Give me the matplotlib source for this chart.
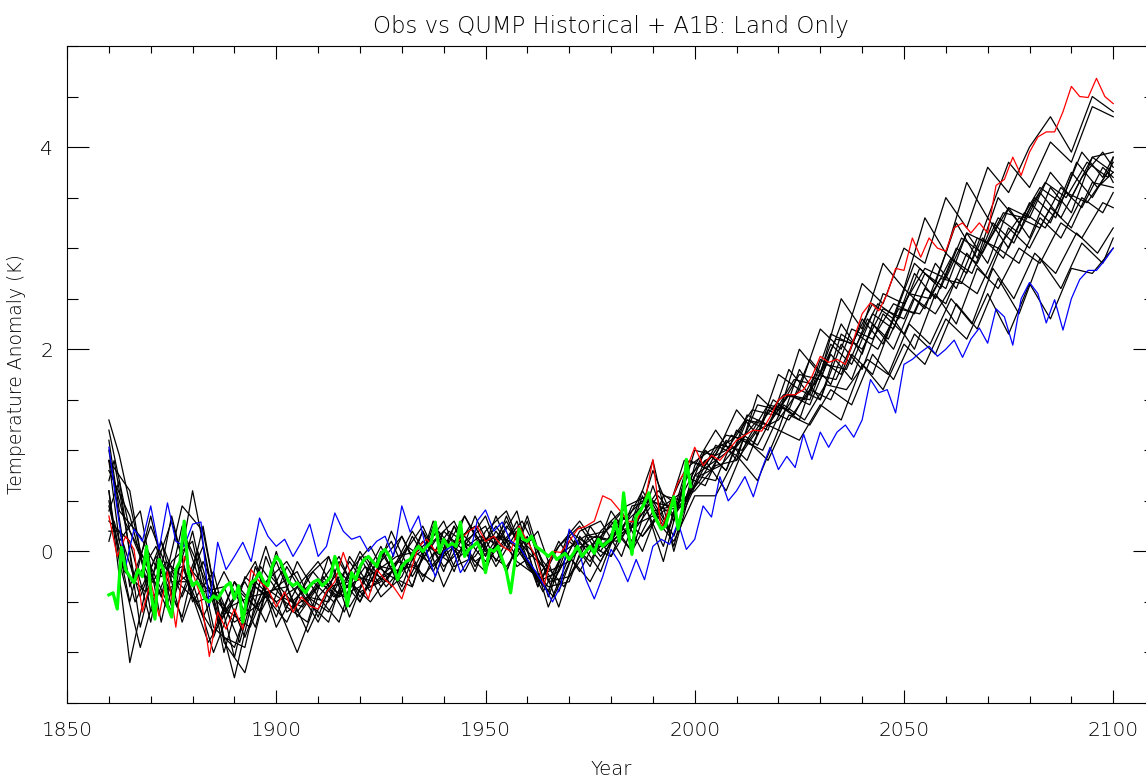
import numpy as np
import matplotlib
matplotlib.use("Agg")
import matplotlib.pyplot as plt
from matplotlib.ticker import MultipleLocator

# year grids
years_2yr = np.arange(1860, 2101, 2)
years_obs = np.arange(1860, 2000)
years_a = np.arange(1860, 2101, 5)
years_b = np.concatenate([[1860], np.arange(1862.5, 2100, 5), [2100]])
years_c = np.concatenate([[1860], np.arange(1861.25, 2100, 5), [2100]])
years_d = np.concatenate([[1860], np.arange(1863.75, 2100, 5), [2100]])

# red ensemble member (2-year steps 1860..2100)
red_member = [
    0.35, -0.05, 0.15, 0.02, -0.6, -0.3, -0.64, -0.2, -0.75, -0.05,
    -0.21, -0.45, -1.04, -0.6, -0.77, -0.57, -0.77, -0.18, -0.3, -0.37,
    -0.55, -0.4, -0.6, -0.45, -0.54, -0.57, -0.4, -0.3, -0.01, -0.25,
    -0.28, -0.47, -0.18, -0.28, -0.35, -0.47, -0.21, 0.05, 0.12, 0.0,
    0.09, 0.05, 0.12, 0.2, 0.25, 0.1, 0.15, 0.05, 0.0, 0.25,
    0.1, -0.05, -0.34, 0.0, -0.01, 0.1, 0.22, 0.25, 0.3, 0.55,
    0.51, 0.41, 0.3, 0.29, 0.48, 0.91, 0.22, 0.45, 0.68, 0.81,
    1.03, 0.85, 0.95, 0.9, 1.0, 1.1, 1.15, 1.2, 1.19, 1.33,
    1.5, 1.55, 1.55, 1.6, 1.73, 1.93, 1.87, 1.9, 1.85, 2.1,
    2.35, 2.46, 2.38, 2.55, 2.8, 2.78, 3.1, 2.91, 3.1, 3.0,
    2.97, 3.2, 3.25, 3.15, 3.25, 3.15, 3.62, 3.68, 3.9, 3.72,
    3.95, 4.1, 4.15, 4.15, 4.35, 4.6, 4.5, 4.49, 4.68, 4.5,
    4.43,
]

# blue ensemble member (2-year steps 1860..2100)
blue_member = [
    1.03, 0.41, -0.15, 0.22, 0.1, 0.45, 0.02, 0.48, 0.1, 0.05,
    0.27, 0.29, -0.54, 0.09, -0.18, -0.05, 0.09, -0.1, 0.33, 0.15,
    0.05, 0.12, -0.05, 0.09, 0.27, -0.05, 0.05, 0.38, 0.2, 0.12,
    0.15, 0.0, 0.1, 0.15, -0.05, 0.45, 0.19, 0.35, -0.01, -0.25,
    0.0, 0.05, -0.21, -0.08, 0.3, 0.41, 0.2, 0.29, 0.1, 0.05,
    -0.08, -0.2, -0.34, -0.5, -0.34, 0.22, 0.09, -0.28, -0.47, -0.25,
    0.02, -0.11, -0.3, -0.08, -0.28, 0.05, 0.12, 0.07, 0.29, 0.02,
    0.12, 0.45, 0.34, 0.74, 0.5, 0.6, 0.74, 0.54, 0.81, 1.03,
    0.81, 0.94, 0.83, 1.16, 0.91, 1.18, 1.03, 1.18, 1.25, 1.13,
    1.3, 1.7, 1.57, 1.6, 1.37, 1.85, 1.9, 1.97, 2.03, 1.93,
    2.0, 2.09, 1.92, 2.1, 2.21, 2.06, 2.4, 2.32, 2.04, 2.5,
    2.66, 2.55, 2.26, 2.49, 2.19, 2.5, 2.69, 2.78, 2.78, 2.88,
    3.0,
]

# observations (annual 1860..1999)
obs = [
    -0.43, -0.41, -0.57, 0.04, -0.18, -0.25, -0.31, -0.18, -0.25, 0.05,
    -0.39, -0.67, -0.08, -0.18, -0.54, -0.65, -0.18, -0.1, 0.3, -0.21,
    -0.34, -0.3, -0.37, -0.47, -0.5, -0.44, -0.47, -0.4, -0.34, -0.31,
    -0.47, -0.34, -0.7, -0.45, -0.31, -0.28, -0.21, -0.3, -0.34, -0.15,
    -0.05, -0.1, -0.21, -0.3, -0.34, -0.31, -0.36, -0.41, -0.34, -0.3,
    -0.28, -0.34, -0.3, -0.25, -0.05, -0.21, -0.3, -0.54, -0.21, -0.28,
    -0.15, -0.08, -0.05, -0.1, -0.15, -0.02, 0.02, -0.05, -0.15, -0.28,
    -0.15, -0.1, -0.08, 0.0, 0.05, 0.0, 0.05, 0.09, 0.29, -0.01,
    0.12, 0.05, 0.08, 0.05, 0.29, -0.05, 0.02, 0.05, 0.09, 0.0,
    -0.21, 0.02, 0.0, 0.05, -0.08, -0.2, -0.41, -0.11, 0.22, 0.12,
    0.1, 0.15, 0.05, 0.02, -0.01, -0.05, -0.01, -0.08, -0.05, -0.02,
    -0.08, -0.02, 0.05, -0.05, 0.0, 0.05, -0.02, 0.12, 0.05, 0.09,
    0.12, 0.3, 0.1, 0.58, 0.22, -0.03, 0.35, 0.4, 0.48, 0.58,
    0.39, 0.3, 0.22, 0.25, 0.39, 0.54, 0.22, 0.41, 0.91, 0.64,
]

# other ensemble members, black, on grid a (5-year steps)
black_a = [
    [1.2, 0.2, -0.3, 0.3, -0.45, -0.8, -0.3, -0.55, -0.1, -0.6,
     -0.3, -0.45, 0.0, -0.35, -0.05, 0.25, -0.2, 0.35, -0.05, 0.3,
     -0.1, -0.4, 0.15, -0.15, 0.4, 0.1, 0.8, 0.3, 1.0,
     0.95, 1.4, 1.15, 1.75, 1.6, 2.2, 2.0, 2.65, 2.45, 3.0,
     2.85, 3.5, 3.2, 3.8, 3.55, 4.0, 4.3, 3.95, 4.5, 4.35],
    [0.5, -0.5, 0.35, -0.55, 0.2, -0.75, -0.95, -0.3, -0.5, -0.35,
     -0.7, -0.25, -0.5, 0.0, -0.35, 0.2, -0.15, 0.05, 0.35, -0.2,
     0.3, -0.45, 0.1, -0.1, 0.3, 0.0, 0.65, 0.05, 0.85,
     1.2, 0.9, 1.55, 1.35, 2.0, 1.75, 2.5, 2.2, 2.85, 2.6,
     3.3, 2.95, 3.65, 3.3, 3.85, 3.6, 4.05, 3.85, 4.4, 4.3],
    [0.9, 0.6, -0.6, -0.1, 0.1, -0.85, -0.3, -0.75, 0.0, -0.65,
     -0.35, -0.05, -0.5, -0.1, 0.15, -0.3, 0.2, 0.0, -0.2, 0.35,
     -0.15, -0.4, 0.2, 0.05, -0.05, 0.45, 0.5, 0.15, 0.75,
     0.7, 1.2, 1.05, 1.45, 1.3, 1.9, 1.75, 2.3, 2.05, 2.6,
     2.4, 2.95, 2.75, 3.3, 3.0, 3.45, 3.25, 3.75, 3.5, 3.85],
    [0.3, 0.1, -0.7, 0.35, -0.5, -0.2, -1.05, -0.15, -0.65, -0.1,
     -0.45, -0.7, -0.05, -0.45, -0.25, 0.2, -0.35, 0.1, 0.25, -0.2,
     0.35, -0.3, -0.25, 0.05, 0.25, 0.0, 0.4, 0.45, 0.6,
     0.85, 0.9, 1.2, 1.3, 1.6, 1.5, 2.05, 1.8, 2.35, 2.15,
     2.6, 2.45, 2.95, 2.7, 3.2, 3.0, 3.4, 3.2, 3.65, 3.6],
    [1.0, -0.35, 0.25, -0.3, -0.3, -1.0, -0.45, -0.1, -0.75, -0.35,
     -0.1, -0.45, -0.35, 0.05, -0.4, 0.0, 0.3, -0.2, 0.2, 0.4,
     -0.1, -0.35, -0.3, 0.25, -0.05, 0.3, 0.9, 0.0, 0.75,
     0.9, 1.05, 1.3, 1.2, 1.8, 1.5, 2.15, 2.0, 2.4, 2.3,
     2.75, 2.6, 3.15, 2.85, 3.4, 3.1, 3.6, 3.35, 3.9, 3.75],
    [0.6, -1.1, -0.15, -0.6, 0.6, -0.45, -1.25, -0.35, -0.5, -1.0,
     -0.45, -0.2, -0.4, -0.3, 0.15, -0.25, 0.0, 0.35, 0.0, -0.15,
     0.15, -0.55, -0.05, -0.3, 0.1, 0.25, 0.35, 0.1, 0.55,
     0.55, 0.95, 0.7, 1.2, 1.1, 1.45, 1.3, 1.85, 1.6, 2.05,
     1.85, 2.3, 2.1, 2.55, 2.15, 2.65, 2.3, 2.8, 2.75, 3.0],
    [0.8, 0.35, -0.45, -0.35, -0.2, -0.45, -0.7, -0.55, -0.35, -0.2,
     -0.65, -0.1, -0.45, -0.15, -0.2, 0.1, -0.05, 0.15, -0.1, 0.25,
     0.0, -0.2, -0.1, 0.15, 0.1, 0.25, 0.5, 0.35, 0.65,
     1.05, 0.95, 1.45, 1.4, 1.75, 1.7, 2.25, 1.95, 2.55, 2.45,
     2.8, 2.7, 3.15, 3.05, 3.4, 3.3, 3.75, 3.5, 3.9, 3.95],
]

# black members on grid b (offset 2.5 years)
black_b = [
    [1.3, 0.95, 0.0, -0.45, 0.45, 0.2, -0.85, -0.95, -0.05, -0.55,
     -0.7, -0.05, -0.55, -0.2, 0.1, -0.35, 0.25, -0.2, 0.35, -0.1,
     0.3, -0.3, -0.2, 0.2, 0.3, -0.05, 0.55, -0.1, 0.7,
     0.9, 1.0, 1.3, 1.2, 1.8, 1.55, 2.15, 2.05, 2.45, 2.3,
     2.85, 2.65, 3.25, 2.9, 3.5, 3.25, 3.6, 3.45, 3.95, 3.7, 3.9],
    [0.6, -0.1, -0.95, -0.2, -0.65, 0.25, -0.9, -1.2, -0.4, -0.35,
     -0.8, -0.35, -0.3, -0.5, -0.2, -0.15, -0.3, 0.25, -0.2, 0.35,
     -0.15, 0.0, -0.55, 0.1, -0.2, 0.35, 0.15, 0.4, 0.45,
     0.9, 0.6, 1.1, 0.9, 1.35, 1.25, 1.6, 1.45, 1.95, 1.7,
     2.15, 1.95, 2.45, 2.2, 2.7, 2.35, 2.9, 2.6, 3.05, 2.85, 3.1],
    [0.9, 0.1, 0.4, -0.7, 0.25, -0.4, -0.35, -0.85, -0.3, -0.1,
     -0.45, -0.6, -0.2, 0.05, -0.35, 0.15, -0.2, 0.25, -0.1, 0.05,
     0.4, -0.35, 0.1, -0.2, 0.2, 0.4, 0.0, 0.55, 0.5,
     1.0, 0.8, 1.35, 1.25, 1.55, 1.5, 2.05, 1.85, 2.35, 2.2,
     2.75, 2.5, 3.0, 2.85, 3.3, 3.15, 3.55, 3.3, 3.7, 3.95, 3.8],
    [0.4, 0.7, -0.75, 0.1, -0.45, 0.05, -1.0, -0.25, -0.45, -0.7,
     -0.25, -0.05, -0.65, -0.1, -0.25, -0.35, 0.3, -0.15, -0.05, 0.25,
     -0.05, 0.2, -0.4, 0.15, -0.1, 0.3, 0.5, 0.05, 0.75,
     0.65, 1.1, 0.9, 1.4, 1.3, 1.6, 1.5, 1.95, 1.75, 2.3,
     2.0, 2.55, 2.25, 2.8, 2.6, 3.0, 2.85, 3.25, 3.1, 3.45, 3.4],
    [1.1, 0.4, 0.15, -0.25, -0.15, -0.65, -0.2, -0.6, 0.05, -0.6,
     -0.45, -0.5, -0.1, -0.4, 0.2, -0.25, 0.1, 0.3, -0.15, 0.2,
     -0.1, -0.25, 0.05, 0.25, -0.05, 0.2, 0.6, 0.25, 0.9,
     0.85, 1.15, 1.1, 1.45, 1.4, 1.9, 1.65, 2.2, 2.1, 2.45,
     2.35, 2.85, 2.6, 3.1, 3.0, 3.3, 3.2, 3.6, 3.4, 3.8, 3.7],
    [0.2, 0.2, -0.45, 0.1, -0.7, -0.1, -0.6, -0.3, -0.7, -0.15,
     -0.5, -0.7, -0.05, -0.35, -0.2, 0.2, -0.15, 0.1, 0.25, -0.15,
     0.2, -0.35, 0.05, 0.3, 0.0, 0.35, 0.15, 0.45, 0.6,
     1.0, 0.8, 1.3, 1.25, 1.55, 1.45, 1.95, 1.7, 2.25, 2.0,
     2.5, 2.35, 2.7, 2.55, 3.0, 2.85, 3.3, 3.1, 3.5, 3.35, 3.55],
]

# black members on grid c (offset 1.25 years)
black_c = [
    [0.7, 0.9, -0.3, 0.05, -0.55, 0.0, -0.7, -0.4, -0.6, -0.2,
     -0.5, -0.3, -0.45, -0.15, -0.3, 0.05, -0.1, 0.2, 0.05, 0.15,
     0.1, -0.2, -0.45, 0.0, 0.15, 0.1, 0.3, 0.6, 0.45,
     0.7, 1.05, 1.0, 1.3, 1.55, 1.5, 1.85, 1.8, 2.3, 2.1,
     2.55, 2.5, 2.9, 2.75, 3.25, 3.05, 3.5, 3.3, 3.85, 3.6, 3.75],
    [0.1, 0.3, -0.5, -0.05, -0.3, -0.5, -0.4, -0.9, -0.15, -0.45,
     -0.55, -0.25, -0.6, -0.05, -0.35, -0.1, 0.05, -0.1, 0.25, -0.05,
     0.2, 0.0, -0.3, 0.1, 0.0, 0.2, 0.25, 0.55, 0.3,
     0.75, 0.85, 1.1, 1.0, 1.45, 1.3, 1.65, 1.6, 1.9, 1.75,
     2.25, 2.05, 2.5, 2.25, 2.8, 2.5, 2.95, 2.75, 3.15, 2.95, 3.2],
]

# black members on grid d (offset 3.75 years)
black_d = [
    [0.9, 0.3, -0.1, -0.55, 0.1, -0.35, -0.6, -0.75, -0.25, -0.5,
     -0.3, -0.5, -0.25, -0.3, -0.1, -0.15, 0.15, 0.0, 0.15, 0.05,
     0.3, -0.1, -0.35, 0.05, 0.05, 0.3, 0.5, 0.45, 0.9,
     0.8, 1.15, 1.05, 1.5, 1.35, 1.75, 1.7, 2.15, 2.0, 2.4,
     2.35, 2.7, 2.65, 3.1, 2.9, 3.35, 3.2, 3.55, 3.45, 3.75, 3.65],
    [0.45, -0.2, -0.4, -0.1, -0.3, -0.9, -0.55, -0.45, -0.4, -0.55,
     -0.2, -0.45, -0.3, -0.2, -0.05, 0.0, 0.2, -0.05, 0.1, 0.15,
     0.0, -0.4, 0.0, 0.15, 0.2, 0.45, 0.55, 0.2, 0.85,
     1.0, 1.1, 1.4, 1.35, 1.7, 1.65, 2.1, 2.05, 2.45, 2.3,
     2.8, 2.6, 3.1, 2.95, 3.35, 3.3, 3.65, 3.5, 3.85, 3.7, 3.9],
]

plt.rcParams['font.family'] = ['DejaVu Sans']
plt.rcParams['font.weight'] = 'light'
plt.rcParams['axes.titleweight'] = 'light'
plt.rcParams['axes.labelweight'] = 'light'

fig = plt.figure(figsize=(11.46, 7.82), dpi=100)
ax = fig.add_axes([0.0585, 0.101, 0.9494, 0.8402])

for grid, members in [(years_a, black_a), (years_b, black_b),
                      (years_c, black_c), (years_d, black_d)]:
    for vals in members:
        ax.plot(grid, vals, color='black', lw=0.9)
ax.plot(years_2yr, red_member, color='#ff0000', lw=0.9)
ax.plot(years_2yr, blue_member, color='#0000ff', lw=0.9)
ax.plot(years_obs, obs, color='#00ff00', lw=2.3)

ax.set_xlim(1850, 2110)
ax.set_ylim(-1.5, 5.0)

ax.xaxis.set_major_locator(MultipleLocator(50))
ax.xaxis.set_minor_locator(MultipleLocator(10))
ax.yaxis.set_major_locator(MultipleLocator(2))
ax.yaxis.set_minor_locator(MultipleLocator(0.5))

ax.tick_params(axis='x', which='both', direction='in', top=True, width=0.8, labelsize=14.5, pad=13)
ax.tick_params(axis='x', which='major', length=9.4)
ax.tick_params(axis='x', which='minor', length=4.7)
ax.tick_params(axis='y', which='both', direction='in', right=True, width=0.8, labelsize=14.5, pad=10)
ax.tick_params(axis='y', which='major', length=15.8)
ax.tick_params(axis='y', which='minor', length=7.9)

ax.set_yticks([0, 2, 4])
for s in ax.spines.values():
    s.set_linewidth(0.8)

ax.set_title('Obs vs QUMP Historical + A1B: Land Only', fontsize=16.5, pad=9)
ax.set_xlabel('Year', fontsize=14, labelpad=14)
ax.set_ylabel('Temperature Anomaly (K)', fontsize=13.5, labelpad=10)

fig.savefig('out.png', dpi=100)
